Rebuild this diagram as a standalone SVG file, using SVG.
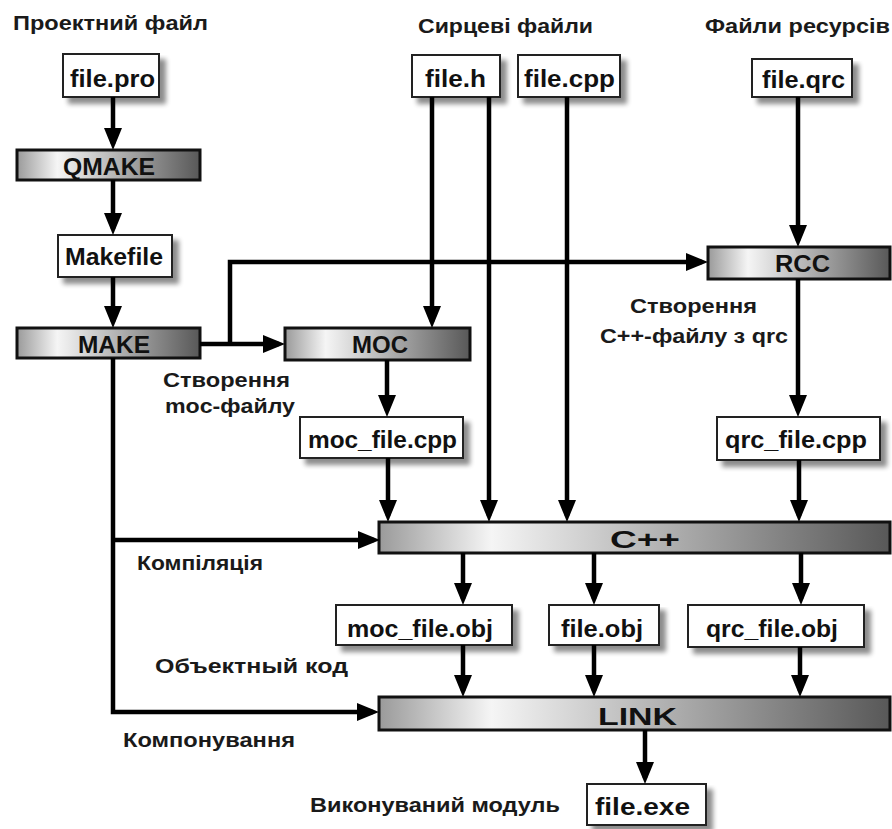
<svg xmlns="http://www.w3.org/2000/svg" width="892" height="829" viewBox="0 0 892 829">
<style>
.box{fill:#fff;stroke:#222;stroke-width:2}
.bar{fill:url(#g);stroke:#111;stroke-width:3}
.bl{font-family:"Liberation Sans",Arial,sans-serif;font-weight:bold;font-size:24px;fill:#111}
.lb{font-family:"Liberation Sans",Arial,sans-serif;font-weight:bold;font-size:20px;fill:#1a1a1a}
.c{fill:none;stroke:#000;stroke-width:4.5;marker-end:url(#ah)}
.cn{fill:none;stroke:#000;stroke-width:4.5}
</style>
<defs>
<linearGradient id="g" x1="0" y1="0" x2="1" y2="0">
<stop offset="0" stop-color="#9a9a9a"/>
<stop offset="0.22" stop-color="#f5f5f5"/>
<stop offset="1" stop-color="#585858"/>
</linearGradient>
<filter id="sh" x="-10%" y="-10%" width="130%" height="160%">
<feGaussianBlur in="SourceAlpha" stdDeviation="2.5"/>
<feOffset dx="6" dy="6" result="o"/>
<feComponentTransfer><feFuncA type="linear" slope="0.45"/></feComponentTransfer>
<feMerge><feMergeNode/><feMergeNode in="SourceGraphic"/></feMerge>
</filter>
<marker id="ah" markerUnits="userSpaceOnUse" markerWidth="24" markerHeight="20" refX="16" refY="9" orient="auto">
<path d="M0,0 L22,9 L0,18 Z" fill="#000"/>
</marker>
</defs>
<rect width="892" height="829" fill="#fff"/>

<g id="labels">
<text class="lb" x="13" y="30" textLength="195" lengthAdjust="spacingAndGlyphs">Проектний файл</text>
<text class="lb" x="418" y="33" textLength="175" lengthAdjust="spacingAndGlyphs">Сирцеві файли</text>
<text class="lb" x="705" y="33" textLength="185" lengthAdjust="spacingAndGlyphs">Файли ресурсів</text>
<text class="lb" x="163" y="387" textLength="127" lengthAdjust="spacingAndGlyphs">Створення</text>
<text class="lb" x="165" y="413" textLength="130" lengthAdjust="spacingAndGlyphs">moc-файлу</text>
<text class="lb" x="630" y="313" textLength="127" lengthAdjust="spacingAndGlyphs">Створення</text>
<text class="lb" x="600" y="343" textLength="188" lengthAdjust="spacingAndGlyphs">C++-файлу з qrc</text>
<text class="lb" x="137" y="570" textLength="126" lengthAdjust="spacingAndGlyphs">Компіляція</text>
<text class="lb" x="155" y="673" textLength="193" lengthAdjust="spacingAndGlyphs">Объектный код</text>
<text class="lb" x="123" y="747" textLength="172" lengthAdjust="spacingAndGlyphs">Компонування</text>
<text class="lb" x="310" y="812" textLength="250" lengthAdjust="spacingAndGlyphs">Виконуваний модуль</text>
</g>

<g id="file_pro"><rect class="box" x="63" y="54" width="96" height="43" filter="url(#sh)"/><text class="bl" x="70" y="87" textLength="85" lengthAdjust="spacingAndGlyphs">file.pro</text></g>
<g id="file_h"><rect class="box" x="412" y="55" width="88" height="42" filter="url(#sh)"/><text class="bl" x="425" y="87" textLength="61" lengthAdjust="spacingAndGlyphs">file.h</text></g>
<g id="file_cpp"><rect class="box" x="518" y="55" width="102" height="42" filter="url(#sh)"/><text class="bl" x="524" y="87" textLength="91" lengthAdjust="spacingAndGlyphs">file.cpp</text></g>
<g id="file_qrc"><rect class="box" x="752" y="59" width="100" height="38" filter="url(#sh)"/><text class="bl" x="762" y="88" textLength="83" lengthAdjust="spacingAndGlyphs">file.qrc</text></g>
<g id="makefile"><rect class="box" x="58" y="235" width="114" height="42" filter="url(#sh)"/><text class="bl" x="65" y="265" textLength="98" lengthAdjust="spacingAndGlyphs">Makefile</text></g>
<g id="moc_file_cpp"><rect class="box" x="300" y="417" width="163" height="41" filter="url(#sh)"/><text class="bl" x="308" y="448" textLength="149" lengthAdjust="spacingAndGlyphs">moc_file.cpp</text></g>
<g id="qrc_file_cpp"><rect class="box" x="717" y="417" width="163" height="43" filter="url(#sh)"/><text class="bl" x="725" y="448" textLength="142" lengthAdjust="spacingAndGlyphs">qrc_file.cpp</text></g>
<g id="moc_file_obj"><rect class="box" x="336" y="605" width="176" height="40" filter="url(#sh)"/><text class="bl" x="347" y="637" textLength="146" lengthAdjust="spacingAndGlyphs">moc_file.obj</text></g>
<g id="file_obj"><rect class="box" x="549" y="605" width="110" height="40" filter="url(#sh)"/><text class="bl" x="561" y="637" textLength="82" lengthAdjust="spacingAndGlyphs">file.obj</text></g>
<g id="qrc_file_obj"><rect class="box" x="688" y="605" width="176" height="42" filter="url(#sh)"/><text class="bl" x="706" y="637" textLength="132" lengthAdjust="spacingAndGlyphs">qrc_file.obj</text></g>
<g id="file_exe"><rect class="box" x="587" y="784" width="119" height="41" filter="url(#sh)"/><text class="bl" x="595" y="815" textLength="95" lengthAdjust="spacingAndGlyphs">file.exe</text></g>

<g id="qmake"><rect class="bar" x="17" y="150" width="183" height="30"/><text class="bl" x="63" y="175" textLength="92" lengthAdjust="spacingAndGlyphs">QMAKE</text></g>
<g id="make"><rect class="bar" x="17" y="328" width="183" height="30"/><text class="bl" x="78" y="353" textLength="72" lengthAdjust="spacingAndGlyphs">MAKE</text></g>
<g id="moc"><rect class="bar" x="285" y="328" width="185" height="32"/><text class="bl" x="352" y="353" textLength="56" lengthAdjust="spacingAndGlyphs">MOC</text></g>
<g id="rcc"><rect class="bar" x="708" y="247" width="182" height="32"/><text class="bl" x="775" y="272" textLength="55" lengthAdjust="spacingAndGlyphs">RCC</text></g>
<g id="cpp"><rect class="bar" x="379" y="522" width="511" height="31"/><text class="bl" x="610" y="548" font-size="26" textLength="70" lengthAdjust="spacingAndGlyphs">C++</text></g>
<g id="link"><rect class="bar" x="379" y="697" width="511" height="33"/><text class="bl" x="598" y="725" textLength="79" lengthAdjust="spacingAndGlyphs">LINK</text></g>

<g id="connectors">
<path class="c" d="M113,97 V144"/>
<path class="c" d="M113,180 V229"/>
<path class="c" d="M113,277 V322"/>
<path class="c" d="M200,344 H279"/>
<path class="c" d="M230,344 V262 H702"/>
<path class="c" d="M432,97 V322"/>
<path class="c" d="M489,97 V516"/>
<path class="c" d="M567,97 V516"/>
<path class="c" d="M798,97 V241"/>
<path class="c" d="M798,279 V411"/>
<path class="c" d="M387,360 V411"/>
<path class="c" d="M388,458 V516"/>
<path class="c" d="M799,460 V516"/>
<path class="c" d="M113,358 V712 H373"/>
<path class="c" d="M113,540 H374"/>
<path class="c" d="M463,553 V599"/>
<path class="c" d="M594,553 V599"/>
<path class="c" d="M801,553 V599"/>
<path class="c" d="M463,645 V691"/>
<path class="c" d="M594,645 V691"/>
<path class="c" d="M800,647 V691"/>
<path class="c" d="M645,730 V778"/>
</g>
</svg>
